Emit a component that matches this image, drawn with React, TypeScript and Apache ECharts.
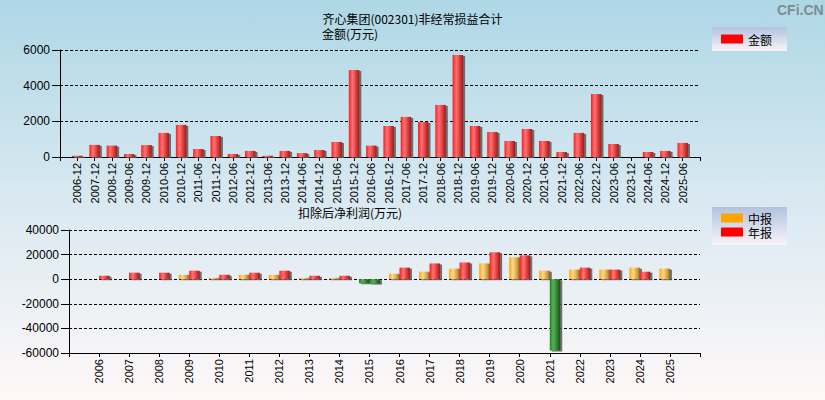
import React, { useEffect, useRef } from 'react';
import * as echarts from 'echarts';

const topCategories = [
  '2006-12', '2007-12', '2008-12', '2009-06', '2009-12', '2010-06', '2010-12', '2011-06', '2011-12',
  '2012-06', '2012-12', '2013-06', '2013-12', '2014-06', '2014-12', '2015-06', '2015-12', '2016-06',
  '2016-12', '2017-06', '2017-12', '2018-06', '2018-12', '2019-06', '2019-12', '2020-06', '2020-12',
  '2021-06', '2021-12', '2022-06', '2022-12', '2023-06', '2023-12', '2024-06', '2024-12', '2025-06',
];
const amountValues = [
  70, 680, 640, 170, 670, 1350, 1800, 450, 1180,
  170, 340, 70, 340, 220, 390, 840, 4880, 640,
  1740, 2250, 1960, 2920, 5720, 1740, 1400, 900, 1570,
  900, 280, 1350, 3530, 730, 0, 280, 340, 790,
];

const years = [
  '2006', '2007', '2008', '2009', '2010', '2011', '2012', '2013', '2014', '2015',
  '2016', '2017', '2018', '2019', '2020', '2021', '2022', '2023', '2024', '2025',
];
const midValues = [
  null, null, null, 3600, 1100, 3600, 3600, 1100, 1100, -3300,
  4400, 6100, 8600, 12800, 17800, 6900, 7800, 7800, 9400, 8600,
];
const annualValues = [
  2800, 5300, 5300, 6900, 3600, 5300, 6900, 2800, 2800, -3600,
  9400, 12800, 13600, 21900, 19400, -58000, 9400, 7800, 6100, null,
];

const FONT = "'Liberation Sans', Arial, 'Noto Sans CJK SC', sans-serif";
const CJK = "'Noto Sans CJK SC', 'Liberation Sans', sans-serif";

const grad = (c0: string, c1: string, c2: string, c3: string) =>
  new echarts.graphic.LinearGradient(0, 0, 1, 0, [
    { offset: 0, color: c0 },
    { offset: 0.35, color: c1 },
    { offset: 0.75, color: c2 },
    { offset: 1, color: c3 },
  ]);

export default function App() {
  const ref = useRef<HTMLDivElement>(null);
  useEffect(() => {
    document.body.style.margin = '0';
    if (!ref.current) return;
    const chart = echarts.init(ref.current, undefined, { renderer: 'svg' });
    const red = grad('#ff1c1c', '#ff7474', '#d83232', '#8a2222');
    const orange = grad('#ffa400', '#ffd88e', '#d8a040', '#8a6820');
    const green = grad('#1a8c1a', '#5aae5a', '#2a7a2a', '#1e4a1e');
    const pad = (arr: any[]) => ['-', ...arr.map((v) => (v === null ? '-' : v)), '-'];
    const shadow = {
      shadowColor: 'rgba(90,90,90,0.85)',
      shadowOffsetX: 2,
      shadowOffsetY: 1,
      shadowBlur: 0,
    };
    const xAxisCommon = (data: string[]) => ({
      type: 'category' as const,
      boundaryGap: false,
      data: ['', ...data, ''],
      axisLine: { onZero: false, lineStyle: { color: '#000', width: 1 } },
      axisTick: { show: true, length: 4, interval: 0, lineStyle: { color: '#000' } },
      axisLabel: { rotate: 90, interval: 0, fontSize: 11, color: '#000', margin: 6, fontFamily: FONT },
      splitLine: { show: false },
    });
    const yAxisCommon = (min: number, max: number, interval: number) => ({
      type: 'value' as const,
      min,
      max,
      interval,
      axisLine: { show: true, lineStyle: { color: '#000', width: 1 } },
      axisTick: { show: true, length: 8, lineStyle: { color: '#000' } },
      axisLabel: { fontSize: 12, color: '#000', margin: 10, fontFamily: FONT, formatter: (v: number) => String(v) },
      splitLine: { show: true, lineStyle: { color: '#000', type: [3, 2], width: 1 } },
    });
    const legendBg = (y: number, h: number) => ({
      type: 'rect',
      z: 0,
      shape: { x: 712, y, width: 75, height: h },
      style: {
        fill: new echarts.graphic.LinearGradient(0, 0, 0, 1, [
          { offset: 0, color: '#b2c2df' },
          { offset: 1, color: '#f8f4f8' },
        ]),
      },
    });
    const noShadow = { shadowColor: 'transparent', shadowOffsetX: 0, shadowOffsetY: 0, shadowBlur: 0 };
    const titleStyle = { fontSize: 12, fontWeight: 'normal', color: '#000', fontFamily: CJK, lineHeight: 12 };
    const legendText = { fontSize: 12, color: '#000', lineHeight: 12, fontFamily: CJK };
    chart.setOption({
      animation: false,
      backgroundColor: new echarts.graphic.LinearGradient(0, 0, 0, 1, [
        { offset: 0, color: '#aed7e6' },
        { offset: 0.5, color: '#d9e9f1' },
        { offset: 1, color: '#fff8f8' },
      ]),
      title: [
        { text: '齐心集团(002301)非经常损益合计', left: 'center', top: 12, padding: 0, textStyle: titleStyle },
        { text: '金额(万元)', left: 322, top: 27, padding: 0, textStyle: titleStyle },
        { text: '扣除后净利润(万元)', left: 298, top: 206, padding: 0, textStyle: titleStyle },
      ],
      graphic: [
        legendBg(27, 24),
        legendBg(207, 38),
        {
          type: 'text',
          x: 777,
          y: 3,
          style: { text: 'CFi.CN', fill: '#7f8c90', font: `bold 14px ${FONT}` },
        },
      ],
      legend: [
        {
          data: [{ name: '金额', itemStyle: { color: '#ff0000', ...noShadow } }],
          orient: 'vertical',
          left: 721,
          top: 33,
          padding: 0,
          itemWidth: 22,
          itemHeight: 9,
          itemGap: 2,
          icon: 'rect',
          textStyle: legendText,
        },
        {
          data: [
            { name: '中报', itemStyle: { color: '#ffa500', ...noShadow } },
            { name: '年报', itemStyle: { color: '#ff0000', ...noShadow } },
          ],
          orient: 'vertical',
          left: 721,
          top: 212,
          padding: 0,
          itemWidth: 22,
          itemHeight: 9,
          itemGap: 2,
          icon: 'rect',
          textStyle: legendText,
        },
      ],
      grid: [
        { left: 60, right: 125, top: 50, height: 107, containLabel: false },
        { left: 69, right: 125, top: 230, height: 123, containLabel: false },
      ],
      xAxis: [
        { ...xAxisCommon(topCategories), gridIndex: 0 },
        { ...xAxisCommon(years), gridIndex: 1 },
      ],
      yAxis: [
        { ...yAxisCommon(0, 6000, 2000), gridIndex: 0 },
        { ...yAxisCommon(-60000, 40000, 20000), gridIndex: 1 },
      ],
      series: [
        {
          name: '金额',
          type: 'bar',
          xAxisIndex: 0,
          yAxisIndex: 0,
          barWidth: 10.5,
          data: pad(amountValues),
          itemStyle: { color: (p: any) => (p.value < 0 ? green : red), ...shadow },
        },
        {
          name: '中报',
          type: 'bar',
          xAxisIndex: 1,
          yAxisIndex: 1,
          barWidth: 10.5,
          barGap: '0%',
          data: pad(midValues),
          itemStyle: { color: (p: any) => (p.value < 0 ? green : orange), ...shadow },
        },
        {
          name: '年报',
          type: 'bar',
          xAxisIndex: 1,
          yAxisIndex: 1,
          barWidth: 10.5,
          barGap: '0%',
          data: pad(annualValues),
          itemStyle: { color: (p: any) => (p.value < 0 ? green : red), ...shadow },
        },
      ],
    });
    return () => chart.dispose();
  }, []);
  return (
    <div
      ref={ref}
      style={{ position: 'absolute', left: 0, top: 0, width: 825, height: 400 }}
    />
  );
}
